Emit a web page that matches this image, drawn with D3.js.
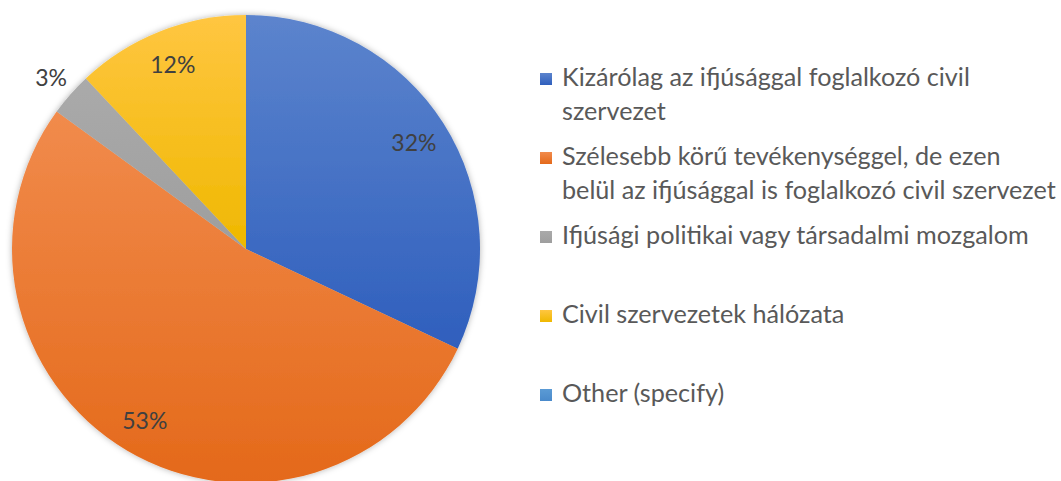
<!DOCTYPE html>
<html>
<head>
<meta charset="utf-8">
<script src="https://cdn.jsdelivr.net/npm/d3@7"></script>
<style>
  html, body { margin: 0; padding: 0; background: #fff; }
  svg { display: block; }
</style>
</head>
<body>
<svg id="chart" width="1061" height="481"></svg>
<script>
const categories = [
  "Kizárólag az ifjúsággal foglalkozó civil szervezet",
  "Szélesebb körű tevékenységgel, de ezen belül az ifjúsággal is foglalkozó civil szervezet",
  "Ifjúsági politikai vagy társadalmi mozgalom",
  "Civil szervezetek hálózata",
  "Other (specify)"
];
const legendLines = [
  ["Kizárólag az ifjúsággal foglalkozó civil", "szervezet"],
  ["Szélesebb körű tevékenységgel, de ezen", "belül az ifjúsággal is foglalkozó civil szervezet"],
  ["Ifjúsági politikai vagy társadalmi mozgalom"],
  ["Civil szervezetek hálózata"],
  ["Other (specify)"]
];
const values = [32, 53, 3, 12, 0];
const colorsTop = ["#5c84cd", "#f18b4c", "#aaaaaa", "#ffc641", "#5b9bd5"];
const colorsBottom = ["#2f5fbd", "#e4691a", "#9e9e9e", "#efb800", "#4a8acb"];

const svg = d3.select("#chart");
const cx = 246, cy = 249, R = 234;
const defs = svg.append("defs");

categories.forEach((c, i) => {
  const g = defs.append("linearGradient").attr("id", "grad" + i)
    .attr("x1", 0).attr("y1", 0).attr("x2", 0).attr("y2", 1);
  g.append("stop").attr("offset", "0%").attr("stop-color", colorsTop[i]);
  g.append("stop").attr("offset", "100%").attr("stop-color", colorsBottom[i]);
});

const filt = defs.append("filter").attr("id", "shadow")
  .attr("x", "-10%").attr("y", "-10%").attr("width", "120%").attr("height", "120%");
filt.append("feDropShadow").attr("dx", 0).attr("dy", 0)
  .attr("stdDeviation", 3).attr("flood-color", "#000").attr("flood-opacity", 0.3);

const pie = d3.pie().sort(null).value(d => d.value);
const data = categories.map((c, i) => ({ name: c, value: values[i], idx: i }));
const arcs = pie(data);
const arc = d3.arc().innerRadius(0).outerRadius(R);

const pieG = svg.append("g").attr("transform", `translate(${cx},${cy})`);
const sliceG = pieG.append("g").attr("filter", "url(#shadow)");
sliceG.selectAll("path").data(arcs.filter(a => a.data.value > 0)).join("path")
  .attr("d", arc)
  .attr("fill", d => `url(#grad${d.data.idx})`);

const total = d3.sum(values);
pieG.selectAll("text.lbl").data(arcs.filter(a => a.data.value > 0)).join("text")
  .attr("class", "lbl")
  .each(function(d) {
    const mid = (d.startAngle + d.endAngle) / 2;
    const r = d.data.value / total < 0.05 ? R * 1.11 : R * 0.85;
    d3.select(this)
      .attr("x", Math.sin(mid) * r)
      .attr("y", -Math.cos(mid) * r);
  })
  .attr("text-anchor", "middle")
  .attr("dominant-baseline", "central")
  .attr("font-family", "Lato, 'Open Sans', sans-serif")
  .attr("font-size", 23)
  .attr("fill", "#404040")
  .text(d => Math.round(d.data.value / total * 100) + "%");

// Legend
const legX = 540, textX = 562, firstBase = 86, entryStep = 79, lineH = 34;
const legFont = "Lato, 'Open Sans', sans-serif";
const probe = svg.append("text").attr("font-family", legFont).attr("font-size", 20)
  .text(legendLines[1][1]);
const w = probe.node().getComputedTextLength();
probe.remove();
const fontSize = 20 * 494 / w;

const leg = svg.append("g");
legendLines.forEach((lines, i) => {
  const base = firstBase + i * entryStep;
  leg.append("rect")
    .attr("x", legX).attr("y", base - 13)
    .attr("width", 12).attr("height", 12)
    .attr("fill", `url(#grad${i})`);
  const t = leg.append("text")
    .attr("font-family", legFont)
    .attr("font-size", fontSize)
    .attr("fill", "#595959");
  lines.forEach((ln, j) => {
    t.append("tspan").attr("x", textX).attr("y", base + j * lineH).text(ln);
  });
});
</script>
</body>
</html>
